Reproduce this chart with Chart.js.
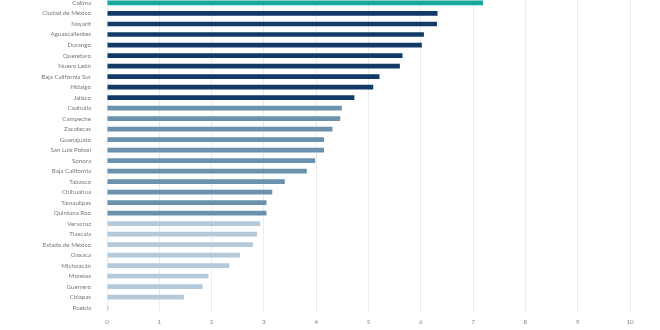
<!DOCTYPE html>
<html>
<head>
<meta charset="utf-8">
<script src="https://cdn.jsdelivr.net/npm/chart.js@4.4.0/dist/chart.umd.min.js"></script>
<style>
    html, body { margin: 0; padding: 0; background: #fff; overflow: hidden; }
    #wrap { position: absolute; left: 0; top: -14px; width: 660px; height: 357px; }
</style>
</head>
<body>
<div id="wrap"><canvas id="estadosChart" width="660" height="357"></canvas></div>
<script>
// Estados ordenados de mayor a menor
const estados = [
    'Colima', 'Ciudad de México', 'Nayarit', 'Aguascalientes', 'Durango',
    'Querétaro', 'Nuevo León', 'Baja California Sur', 'Hidalgo', 'Jalisco',
    'Coahuila', 'Campeche', 'Zacatecas', 'Guanajuato', 'San Luis Potosí',
    'Sonora', 'Baja California', 'Tabasco', 'Chihuahua', 'Tamaulipas',
    'Quintana Roo', 'Veracruz', 'Tlaxcala', 'Estado de México', 'Oaxaca',
    'Michoacán', 'Morelos', 'Guerrero', 'Chiapas', 'Puebla'
];

const porcentajes = [
    7.19, 6.32, 6.31, 6.06, 6.02,
    5.65, 5.60, 5.21, 5.09, 4.73,
    4.49, 4.46, 4.31, 4.15, 4.15,
    3.98, 3.82, 3.40, 3.16, 3.05,
    3.05, 2.93, 2.87, 2.79, 2.54,
    2.34, 1.94, 1.83, 1.47, 0.03
];

// Grupo de color de cada estado (0 = destacado, 1 = alto, 2 = medio, 3 = bajo)
const grupos = [
    0, 1, 1, 1, 1, 1, 1, 1, 1, 1,
    2, 2, 2, 2, 2, 2, 2, 2, 2, 2,
    2, 3, 3, 3, 3, 3, 3, 3, 3, 3
];

const ejeX = [0, 1, 2, 3, 4, 5, 6, 7, 8, 9, 10];

const paleta = ['#17a79c', '#123a67', '#6a92ad', '#b4c9da'];

Chart.defaults.font.family = "Lato, 'Open Sans', sans-serif";
Chart.defaults.color = '#777';

const ctx = document.getElementById('estadosChart').getContext('2d');
new Chart(ctx, {
    type: 'bar',
    data: {
        labels: estados,
        datasets: [{
            label: 'Porcentaje',
            data: porcentajes,
            backgroundColor: grupos.map(g => paleta[g]),
            barPercentage: 0.9,
            categoryPercentage: 0.5
        }]
    },
    options: {
        indexAxis: 'y',
        responsive: false,
        animation: false,
        layout: { padding: { top: 0, right: 30, bottom: 0, left: 0 } },
        plugins: {
            legend: { display: false },
            tooltip: { enabled: false }
        },
        scales: {
            x: {
                min: ejeX[0],
                max: ejeX[ejeX.length - 1],
                afterBuildTicks: (scale) => {
                    scale.ticks = ejeX.map(v => ({ value: v }));
                },
                afterFit: (scale) => { scale.height = 30; },
                grid: { color: '#ececec', drawTicks: false },
                border: { display: false },
                ticks: { padding: 5, font: { size: 6.2 }, color: '#888' },
                title: {
                    display: true,
                    text: 'Porcentaje (%) 2020',
                    font: { size: 6.2 },
                    color: '#888',
                    padding: { top: 2, bottom: 0 }
                }
            },
            y: {
                afterFit: (scale) => { scale.width = 107; },
                grid: { display: false },
                border: { display: false },
                ticks: { padding: 8, font: { size: 6.2 }, color: '#777', autoSkip: false }
            }
        }
    }
});
</script>
</body>
</html>
